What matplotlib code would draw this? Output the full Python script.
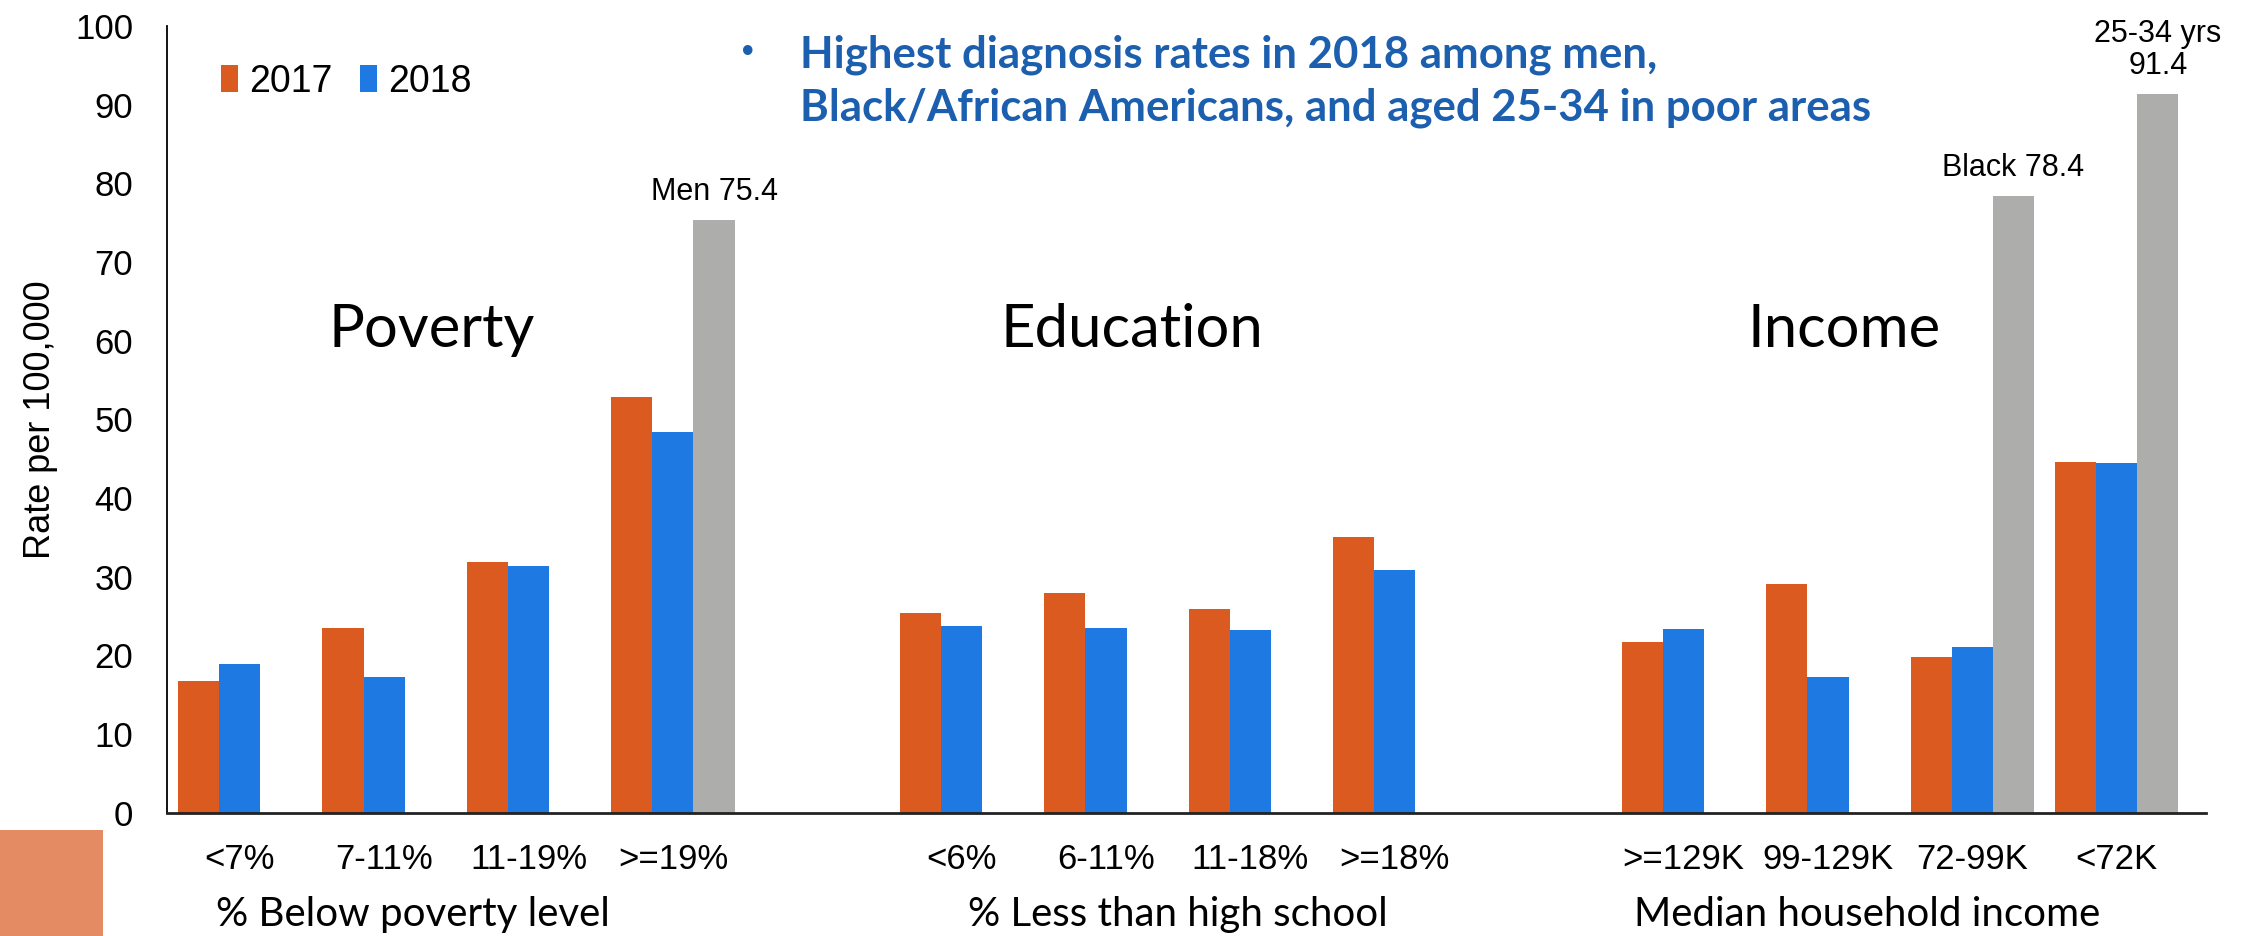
import matplotlib
matplotlib.use("Agg")
import matplotlib.pyplot as plt
import matplotlib.patches as mpatches
import matplotlib.transforms as mtransforms
import numpy as np

# ---------------- data ----------------
categories = ["<7%", "7-11%", "11-19%", ">=19%",
              "<6%", "6-11%", "11-18%", ">=18%",
              ">=129K", "99-129K", "72-99K", "<72K"]
positions = [0, 1, 2, 3, 5, 6, 7, 8, 10, 11, 12, 13]
rate_2017 = [16.7, 23.5, 31.8, 52.9, 25.4, 27.9, 25.9, 35.0, 21.7, 29.1, 19.8, 44.6]
rate_2018 = [18.9, 17.3, 31.3, 48.4, 23.7, 23.5, 23.2, 30.9, 23.4, 17.3, 21.0, 44.4]
highlight_pos = [3, 12, 13]
highlight_val = [75.4, 78.4, 91.4]
highlight_lab = ["Men 75.4", "Black 78.4", "25-34 yrs\n91.4"]
group_names = ["Poverty", "Education", "Income"]
group_name_x = [1.33, 6.18, 11.11]
group_axis_labels = ["% Below poverty level", "% Less than high school", "Median household income"]
group_axis_x = [1.2, 6.5, 11.27]
yticks = list(range(0, 101, 10))

C17 = "#DA5A1F"
C18 = "#1F79E2"
CGR = "#ADADAC"
BLUE_TXT = "#1B5FAE"

NUM_FONT = ["Liberation Sans", "DejaVu Sans"]
CAL_FONT = ["Lato", "DejaVu Sans"]

fig = plt.figure(figsize=(22.51, 9.36), dpi=100)
ax = fig.add_axes([0.074, 0.1318, 0.906, 0.8404])

w = 0.285
x = np.array(positions, dtype=float)
ax.bar(x - w, rate_2017, width=w, color=C17, label="2017")
ax.bar(x, rate_2018, width=w, color=C18, label="2018")
ax.bar(np.array(highlight_pos) + w, highlight_val, width=w, color=CGR)

for p, v, lab in zip(highlight_pos, highlight_val, highlight_lab):
    ax.text(p + w, v + 1.6, lab, ha="center", va="bottom", fontsize=22,
            family=NUM_FONT, linespacing=1.1)

ax.set_xlim(-0.507, 13.618)
ax.set_ylim(0, 100)
ax.set_yticks(yticks)
ax.set_yticklabels([str(t) for t in yticks], family=NUM_FONT, fontsize=25)
ax.set_xticks(positions)
ax.set_xticklabels(categories, family=NUM_FONT, fontsize=25)
ax.tick_params(axis="y", length=0, pad=24)
ax.tick_params(axis="x", length=0, pad=22)
for s in ["top", "right"]:
    ax.spines[s].set_visible(False)
ax.spines["left"].set_linewidth(1.3)
ax.spines["bottom"].set_linewidth(2.0)
ax.spines["bottom"].set_color("#222222")

ax.set_ylabel("Rate per 100,000", family=NUM_FONT, fontsize=26, labelpad=12)

for gx, gn in zip(group_name_x, group_names):
    ax.text(gx, 61.4, gn, ha="center", va="center", fontsize=43, family=CAL_FONT)

trans = mtransforms.blended_transform_factory(ax.transData, ax.transAxes)
for gx, gl in zip(group_axis_x, group_axis_labels):
    ax.text(gx, -0.13, gl, ha="center", va="center", fontsize=29, family=CAL_FONT, transform=trans)

leg = ax.legend(loc="upper left", bbox_to_anchor=(0.01, 0.995), ncol=2, frameon=False,
                handlelength=0.45, handleheight=0.75, handletextpad=0.3, columnspacing=0.75,
                prop={"family": NUM_FONT, "size": 27})

fig.text(0.3297, 0.944, "\u2022", color=BLUE_TXT, fontsize=24, ha="left", va="center",
         family=NUM_FONT, fontweight="bold")
fig.text(0.3553, 0.942, "Highest diagnosis rates in 2018 among men,", color=BLUE_TXT,
         fontsize=31.5, ha="left", va="center", family=CAL_FONT, fontweight="bold")
fig.text(0.3553, 0.885, "Black/African Americans, and aged 25-34 in poor areas", color=BLUE_TXT,
         fontsize=31.5, ha="left", va="center", family=CAL_FONT, fontweight="bold")

# decorative orange square in bottom-left corner
fig.patches.append(mpatches.Rectangle((0, 0), 103 / 2251, 106 / 936, transform=fig.transFigure,
                                      facecolor="#E58B63", edgecolor="none", zorder=0))

fig.savefig("out.png", dpi=100)
